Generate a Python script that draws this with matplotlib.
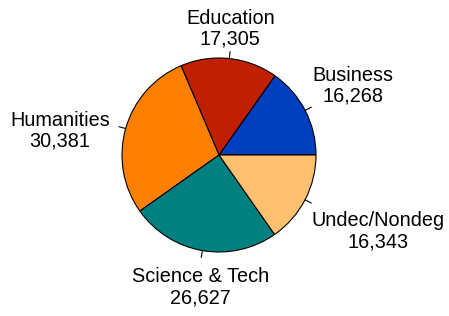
import numpy as np
import matplotlib
matplotlib.use("Agg")
import matplotlib.pyplot as plt

categories = ["Business", "Education", "Humanities", "Science & Tech", "Undec/Nondeg"]
values = [16268, 17305, 30381, 26627, 16343]
colors = ["#0040C0", "#C02000", "#FF8000", "#008080", "#FFC070"]

plt.rcParams['font.family'] = ['Liberation Sans', 'DejaVu Sans']

fig = plt.figure(figsize=(4.49, 3.16), dpi=100)
ax = fig.add_axes([0, 0, 1, 1])
r = 97.0
cx, cy = 219.0, 155.0

wedges, _ = ax.pie(values, colors=colors, startangle=0, counterclock=True,
                   radius=1.0, center=(0, 0), frame=True,
                   wedgeprops=dict(edgecolor="black", linewidth=0.8))
ax.set_xlim(-cx / r, (449 - cx) / r)
ax.set_ylim(-(316 - cy) / r, cy / r)
ax.set_aspect("auto")
ax.axis("off")

for w, name, v in zip(wedges, categories, values):
    ang = np.deg2rad((w.theta1 + w.theta2) / 2)
    c, s = np.cos(ang), np.sin(ang)
    ax.plot([c, 1.07 * c], [s, 1.07 * s], color="black", lw=0.8)
    ha = "left" if c > 0.3 else ("right" if c < -0.3 else "center")
    va = "bottom" if s > 0.3 else ("top" if s < -0.3 else "center")
    x, y = 1.1 * c, 1.1 * s
    if ha == "left":
        x = 1.08 * c
    if ha == "right":
        x = 1.17 * c
    if va == "top":
        y -= 0.07
    if va == "center":
        y -= 0.05
    ax.text(x, y, f"{name}\n{v:,}", ha=ha, va=va,
            multialignment="center", fontsize=14.3, linespacing=1.15)

fig.savefig("out.png", dpi=100)
